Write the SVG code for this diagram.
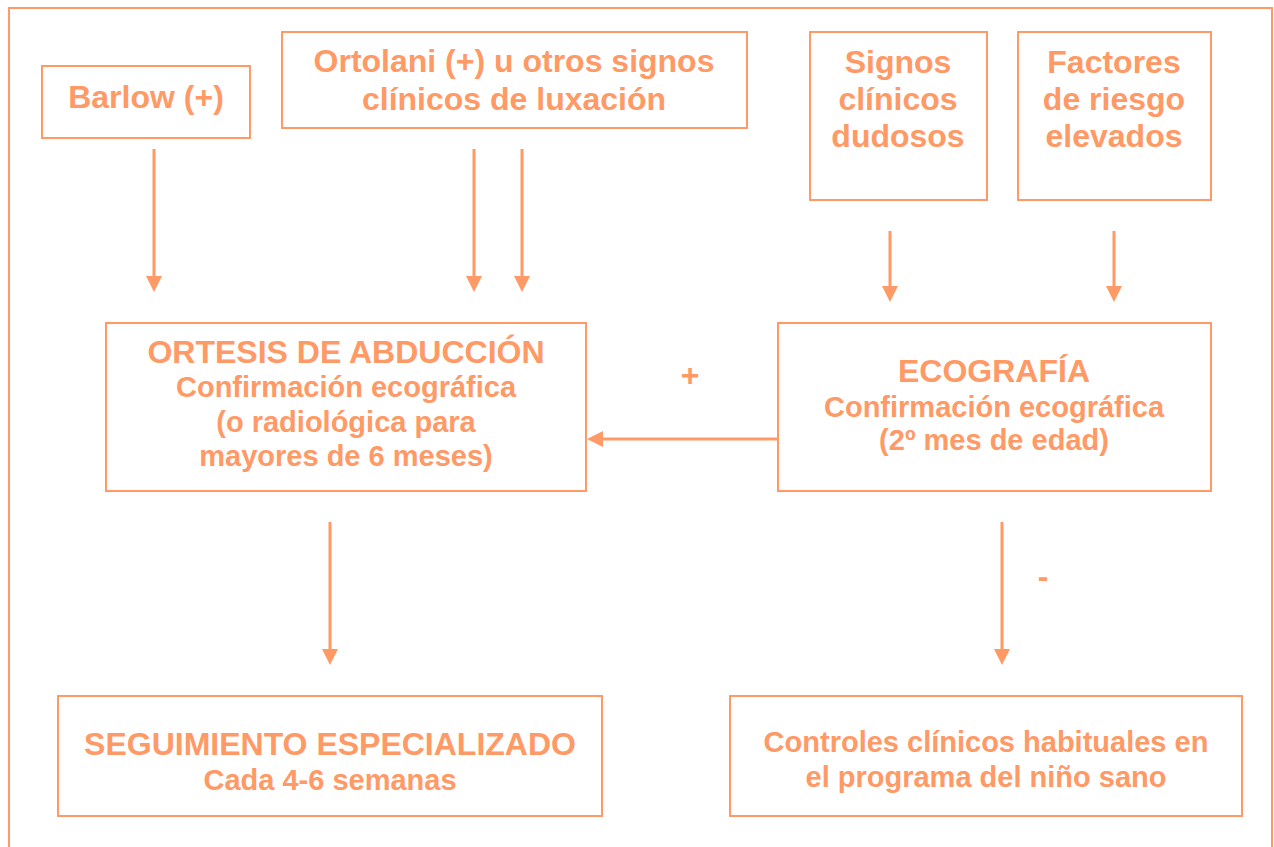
<svg xmlns="http://www.w3.org/2000/svg" width="1274" height="847" viewBox="0 0 1274 847">
<style>
.box{fill:#FFFFFF;stroke:#FF9966;stroke-width:2}
.t{font-family:"Liberation Sans",Arial,sans-serif;font-weight:bold;fill:#FF9966;text-anchor:middle}
.h{font-size:32px}
.s{font-size:29px}
.c{stroke:#FF9966;stroke-width:3;fill:none;marker-end:url(#ah)}
</style>
<defs>
<marker id="ah" markerUnits="userSpaceOnUse" markerWidth="16" markerHeight="16" refX="6" refY="8" orient="auto">
<path d="M0,0 L16,8 L0,16 z" fill="#FF9966"/>
</marker>
</defs>
<rect x="0" y="0" width="1274" height="847" fill="#FFFFFF"/>
<rect x="9" y="8" width="1263" height="860" fill="none" stroke="#FF9966" stroke-width="2"/>

<g id="connectors">
<line class="c" x1="154" y1="149" x2="154" y2="282"/>
<line class="c" x1="474" y1="149" x2="474" y2="282"/>
<line class="c" x1="522" y1="149" x2="522" y2="282"/>
<line class="c" x1="890" y1="231" x2="890" y2="292"/>
<line class="c" x1="1114" y1="231" x2="1114" y2="292"/>
<line class="c" x1="778" y1="439" x2="597" y2="439"/>
<line class="c" x1="330" y1="522" x2="330" y2="655"/>
<line class="c" x1="1002" y1="522" x2="1002" y2="655"/>
<text class="t h" x="690" y="386">+</text>
<text class="t h" x="1043" y="587">-</text>
</g>

<g id="barlow">
<rect class="box" x="42" y="66" width="208" height="72"/>
<text class="t h" x="146" y="108">Barlow (+)</text>
</g>

<g id="ortolani">
<rect class="box" x="282" y="32" width="465" height="96"/>
<text class="t h" x="514" y="72">Ortolani (+) u otros signos</text>
<text class="t h" x="514" y="110">clínicos de luxación</text>
</g>

<g id="signos">
<rect class="box" x="810" y="32" width="177" height="168"/>
<text class="t h" x="898" y="73">Signos</text>
<text class="t h" x="898" y="110">clínicos</text>
<text class="t h" x="898" y="147">dudosos</text>
</g>

<g id="factores">
<rect class="box" x="1018" y="32" width="193" height="168"/>
<text class="t h" x="1114" y="73">Factores</text>
<text class="t h" x="1114" y="110">de riesgo</text>
<text class="t h" x="1114" y="147">elevados</text>
</g>

<g id="ortesis">
<rect class="box" x="106" y="323" width="480" height="168"/>
<text class="t h" x="346" y="363">ORTESIS DE ABDUCCIÓN</text>
<text class="t s" x="346" y="397">Confirmación ecográfica</text>
<text class="t s" x="346" y="432">(o radiológica para</text>
<text class="t s" x="346" y="466">mayores de 6 meses)</text>
</g>

<g id="ecografia">
<rect class="box" x="778" y="323" width="433" height="168"/>
<text class="t h" x="994" y="382">ECOGRAFÍA</text>
<text class="t s" x="994" y="417">Confirmación ecográfica</text>
<text class="t s" x="994" y="450">(2º mes de edad)</text>
</g>

<g id="seguimiento">
<rect class="box" x="58" y="696" width="544" height="120"/>
<text class="t h" x="330" y="755">SEGUIMIENTO ESPECIALIZADO</text>
<text class="t s" x="330" y="790">Cada 4-6 semanas</text>
</g>

<g id="controles">
<rect class="box" x="730" y="696" width="512" height="120"/>
<text class="t s" x="986" y="752">Controles clínicos habituales en</text>
<text class="t s" x="986" y="787">el programa del niño sano</text>
</g>
</svg>
